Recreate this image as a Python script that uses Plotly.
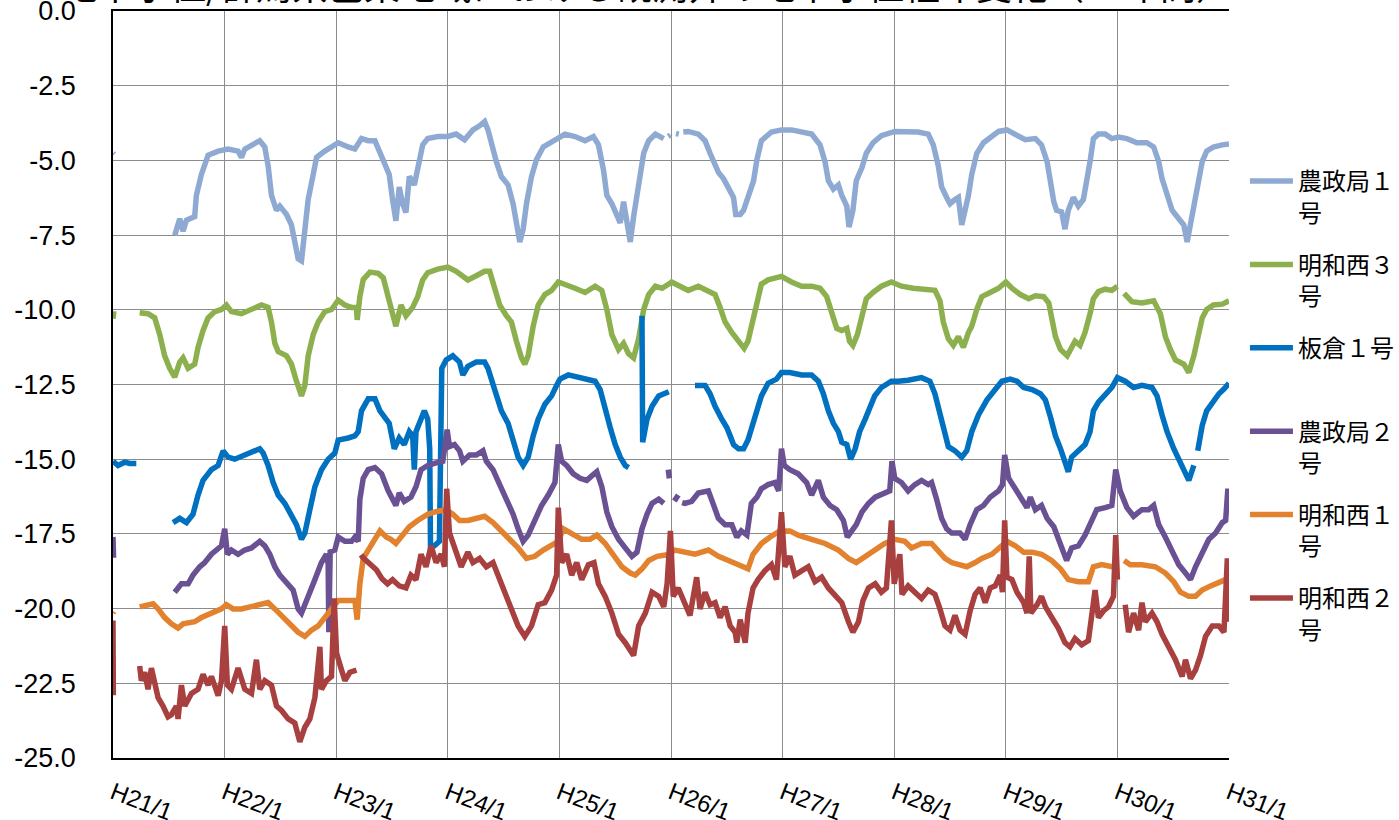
import plotly.graph_objects as go

# ---------------- data (decimal year, groundwater level m) ; None = gap ----------------
tick_years = [2009, 2010, 2011, 2012, 2013, 2014, 2015, 2016, 2017, 2018, 2019]
tick_labels = ["H21/1", "H22/1", "H23/1", "H24/1", "H25/1", "H26/1",
               "H27/1", "H28/1", "H29/1", "H30/1", "H31/1"]
y_ticks = [0.0, -2.5, -5.0, -7.5, -10.0, -12.5, -15.0, -17.5, -20.0, -22.5, -25.0]

series_names = ["農政局１号", "明和西３号", "板倉１号", "農政局２号", "明和西１号", "明和西２号"]

nouseikyoku1 = [
    (2009.0, -4.76), (2009.01, -4.80), None,
    (2009.553, -7.51), (2009.598, -6.95), (2009.628, -7.37), (2009.658, -7.00), (2009.732, -6.88),
    (2009.747, -6.17), (2009.792, -5.47), (2009.852, -4.83), (2009.942, -4.69), (2010.031, -4.62),
    (2010.121, -4.69), (2010.151, -4.90), (2010.181, -4.62), (2010.315, -4.34), (2010.360, -4.55),
    (2010.390, -5.18), (2010.420, -6.17), (2010.465, -6.67), (2010.495, -6.53), (2010.555, -6.81),
    (2010.599, -7.16), (2010.629, -7.73), (2010.659, -8.29), (2010.689, -8.36), (2010.719, -7.44),
    (2010.749, -6.31), (2010.794, -5.47), (2010.824, -4.90), (2010.898, -4.69), (2010.958, -4.55),
    (2011.018, -4.41), (2011.108, -4.55), (2011.167, -4.62), (2011.227, -4.27), (2011.287, -4.34),
    (2011.347, -4.34), (2011.407, -4.90), (2011.475, -5.47), (2011.505, -6.31), (2011.535, -7.02),
    (2011.565, -5.89), (2011.595, -6.45), (2011.625, -6.74), (2011.655, -5.54), (2011.700, -5.82),
    (2011.730, -5.18), (2011.775, -4.48), (2011.820, -4.27), (2011.910, -4.20), (2012.000, -4.20),
    (2012.075, -4.12), (2012.150, -4.31), (2012.225, -3.98), (2012.285, -3.84), (2012.330, -3.70),
    (2012.360, -3.98), (2012.390, -4.48), (2012.435, -5.04), (2012.480, -5.54), (2012.540, -5.82),
    (2012.585, -6.45), (2012.615, -7.02), (2012.645, -7.73), (2012.675, -7.30), (2012.705, -6.45),
    (2012.750, -5.54), (2012.795, -4.97), (2012.855, -4.55), (2012.915, -4.41), (2012.990, -4.27),
    (2013.050, -4.12), (2013.140, -4.20), (2013.230, -4.34), (2013.305, -4.20), (2013.350, -4.48),
    (2013.395, -5.32), (2013.425, -6.17), (2013.470, -6.45), (2013.515, -6.88), (2013.545, -7.09),
    (2013.575, -6.38), (2013.605, -7.16), (2013.635, -7.73), (2013.665, -6.88), (2013.710, -5.89),
    (2013.755, -4.76), (2013.800, -4.34), (2013.860, -4.12), (2013.935, -4.27), None,
    (2013.975, -4.20), (2013.995, -4.15), None, (2014.045, -4.10), (2014.070, -4.12), None,
    (2014.110, -4.05), (2014.155, -4.03), (2014.245, -4.12), (2014.305, -4.34), (2014.350, -4.76),
    (2014.395, -5.18), (2014.425, -5.40), (2014.470, -5.61), (2014.515, -5.96), (2014.560, -6.24),
    (2014.580, -6.81), (2014.620, -6.81), (2014.650, -6.67), (2014.690, -6.24), (2014.740, -5.68),
    (2014.770, -4.97), (2014.810, -4.34), (2014.900, -4.05), (2014.990, -3.98), (2015.080, -3.98),
    (2015.170, -4.03), (2015.260, -4.12), (2015.335, -4.48), (2015.380, -5.04), (2015.410, -5.68),
    (2015.455, -5.96), (2015.500, -5.82), (2015.530, -6.17), (2015.575, -6.53), (2015.595, -7.23),
    (2015.630, -6.67), (2015.660, -5.68), (2015.710, -5.25), (2015.750, -4.76), (2015.810, -4.41),
    (2015.885, -4.17), (2016.005, -4.03), (2016.095, -4.05), (2016.215, -4.05), (2016.305, -4.12),
    (2016.350, -4.48), (2016.395, -5.18), (2016.425, -5.89), (2016.470, -6.24), (2016.500, -6.45),
    (2016.545, -6.31), (2016.575, -6.24), (2016.605, -7.16), (2016.635, -6.67), (2016.665, -6.17),
    (2016.695, -5.47), (2016.740, -4.76), (2016.800, -4.41), (2016.875, -4.20), (2016.935, -4.03),
    (2017.010, -3.98), (2017.085, -4.12), (2017.175, -4.31), (2017.265, -4.27), (2017.320, -4.48),
    (2017.370, -5.04), (2017.400, -5.75), (2017.430, -6.38), (2017.455, -6.67), (2017.500, -6.72),
    (2017.530, -7.30), (2017.560, -6.67), (2017.605, -6.24), (2017.650, -6.53), (2017.695, -6.31),
    (2017.725, -5.75), (2017.755, -5.04), (2017.785, -4.27), (2017.830, -4.12), (2017.890, -4.12),
    (2017.950, -4.27), (2018.010, -4.22), (2018.085, -4.27), (2018.175, -4.41), (2018.265, -4.41),
    (2018.325, -4.55), (2018.370, -5.04), (2018.400, -5.61), (2018.445, -6.10), (2018.490, -6.67),
    (2018.550, -6.95), (2018.595, -7.16), (2018.625, -7.73), (2018.655, -7.16), (2018.685, -6.45),
    (2018.730, -5.61), (2018.760, -5.04), (2018.800, -4.69), (2018.860, -4.55), (2018.940, -4.48),
    (2019.000, -4.45),
]

meiwanishi3 = [
    (2009.0, -10.30), (2009.008, -10.05), None,
    (2009.239, -10.10), (2009.314, -10.13), (2009.374, -10.27), (2009.419, -10.83), (2009.463, -11.54),
    (2009.508, -11.96), (2009.553, -12.25), (2009.598, -11.75), (2009.628, -11.61), (2009.673, -11.96),
    (2009.732, -11.82), (2009.762, -11.26), (2009.807, -10.69), (2009.852, -10.27), (2009.912, -10.06),
    (2009.972, -9.99), (2010.016, -9.84), (2010.061, -10.06), (2010.151, -10.13), (2010.241, -9.99),
    (2010.330, -9.84), (2010.390, -9.92), (2010.420, -10.41), (2010.450, -11.12), (2010.480, -11.40),
    (2010.555, -11.54), (2010.599, -11.82), (2010.644, -12.39), (2010.689, -12.88), (2010.719, -12.53),
    (2010.749, -11.54), (2010.794, -10.83), (2010.839, -10.41), (2010.898, -10.06), (2010.958, -9.99),
    (2011.018, -9.68), (2011.078, -9.84), (2011.137, -9.92), (2011.182, -9.92), (2011.188, -10.34),
    (2011.212, -9.56), (2011.242, -8.99), (2011.302, -8.74), (2011.377, -8.78), (2011.422, -8.93),
    (2011.475, -9.70), (2011.535, -10.55), (2011.580, -9.84), (2011.625, -10.20), (2011.685, -9.92),
    (2011.730, -9.56), (2011.775, -9.00), (2011.820, -8.76), (2011.910, -8.64), (2012.000, -8.57),
    (2012.075, -8.71), (2012.180, -9.00), (2012.255, -8.86), (2012.330, -8.71), (2012.375, -8.71),
    (2012.420, -9.28), (2012.465, -9.84), (2012.525, -10.20), (2012.570, -10.41), (2012.615, -11.05),
    (2012.660, -11.61), (2012.690, -11.82), (2012.720, -11.54), (2012.765, -10.55), (2012.810, -9.84),
    (2012.870, -9.49), (2012.930, -9.35), (2012.990, -9.07), (2013.050, -9.14), (2013.140, -9.28),
    (2013.230, -9.42), (2013.320, -9.21), (2013.380, -9.35), (2013.425, -9.99), (2013.470, -10.83),
    (2013.530, -11.33), (2013.575, -11.12), (2013.620, -11.47), (2013.665, -11.61), (2013.710, -10.97),
    (2013.755, -9.99), (2013.800, -9.49), (2013.860, -9.21), (2013.920, -9.28), (2013.980, -9.14),
    (2014.005, -9.07), (2014.080, -9.21), (2014.155, -9.35), (2014.245, -9.21), (2014.335, -9.35),
    (2014.395, -9.49), (2014.440, -9.92), (2014.485, -10.41), (2014.545, -10.76), (2014.600, -11.05),
    (2014.655, -11.29), (2014.690, -11.05), (2014.730, -10.41), (2014.770, -9.63), (2014.810, -9.14),
    (2014.870, -9.00), (2014.930, -8.93), (2014.990, -8.88), (2015.080, -9.07), (2015.170, -9.21),
    (2015.260, -9.21), (2015.335, -9.28), (2015.395, -9.56), (2015.440, -10.13), (2015.485, -10.62),
    (2015.530, -10.69), (2015.575, -10.62), (2015.600, -11.05), (2015.630, -11.19), (2015.670, -10.83),
    (2015.710, -10.20), (2015.750, -9.63), (2015.810, -9.42), (2015.885, -9.21), (2015.975, -9.07),
    (2016.065, -9.21), (2016.170, -9.28), (2016.275, -9.31), (2016.365, -9.35), (2016.410, -9.70),
    (2016.440, -10.41), (2016.485, -10.97), (2016.530, -11.19), (2016.575, -10.90), (2016.620, -11.26),
    (2016.665, -10.76), (2016.695, -10.55), (2016.740, -9.99), (2016.785, -9.56), (2016.860, -9.42),
    (2016.935, -9.28), (2017.000, -9.07), (2017.055, -9.28), (2017.130, -9.49), (2017.205, -9.63),
    (2017.265, -9.53), (2017.340, -9.56), (2017.385, -9.77), (2017.415, -10.27), (2017.445, -10.90),
    (2017.490, -11.33), (2017.550, -11.54), (2017.590, -11.26), (2017.620, -11.05), (2017.665, -11.19),
    (2017.710, -10.76), (2017.755, -10.13), (2017.785, -9.63), (2017.830, -9.39), (2017.890, -9.31),
    (2017.950, -9.35), (2018.000, -9.21), None,
    (2018.060, -9.45), (2018.130, -9.73), (2018.220, -9.77), (2018.325, -9.70), (2018.385, -10.13),
    (2018.430, -10.90), (2018.475, -11.33), (2018.520, -11.68), (2018.595, -11.82), (2018.640, -12.10),
    (2018.685, -11.54), (2018.730, -10.76), (2018.760, -10.27), (2018.800, -9.99), (2018.860, -9.84),
    (2018.940, -9.81), (2019.000, -9.70),
]

itakura1 = [
    (2009.0, -15.07), (2009.045, -15.21), (2009.105, -15.10), (2009.149, -15.14), (2009.209, -15.14), None,
    (2009.538, -17.12), (2009.598, -16.98), (2009.658, -17.12), (2009.717, -16.84), (2009.762, -16.20),
    (2009.807, -15.71), (2009.882, -15.35), (2009.942, -15.21), (2009.987, -14.72), (2010.031, -14.93),
    (2010.091, -15.00), (2010.181, -14.86), (2010.241, -14.79), (2010.315, -14.65), (2010.345, -14.79),
    (2010.390, -15.21), (2010.435, -15.78), (2010.480, -16.20), (2010.540, -16.48), (2010.599, -16.84),
    (2010.644, -17.19), (2010.689, -17.68), (2010.719, -17.47), (2010.764, -16.69), (2010.809, -15.92),
    (2010.868, -15.35), (2010.928, -15.00), (2010.988, -14.79), (2011.018, -14.36), (2011.108, -14.29),
    (2011.167, -14.22), (2011.197, -14.08), (2011.227, -13.38), (2011.287, -12.98), (2011.347, -12.98),
    (2011.392, -13.38), (2011.451, -13.66), (2011.475, -13.80), (2011.520, -14.65), (2011.565, -14.29),
    (2011.610, -14.51), (2011.655, -14.08), (2011.685, -14.22), (2011.700, -15.35), (2011.715, -14.08),
    (2011.745, -13.80), (2011.790, -13.38), (2011.820, -13.66), (2011.838, -14.65), (2011.845, -17.90),
    (2011.880, -17.90), (2011.925, -17.75), (2011.946, -11.96), (2011.985, -11.68), (2012.045, -11.54),
    (2012.105, -11.75), (2012.135, -12.18), (2012.180, -11.89), (2012.255, -11.75), (2012.330, -11.75),
    (2012.360, -11.96), (2012.420, -12.67), (2012.480, -13.38), (2012.540, -13.80), (2012.585, -14.36),
    (2012.630, -14.93), (2012.675, -15.21), (2012.720, -14.93), (2012.765, -14.22), (2012.810, -13.66),
    (2012.870, -13.16), (2012.930, -12.88), (2012.975, -12.53), (2013.005, -12.32), (2013.080, -12.18),
    (2013.155, -12.25), (2013.245, -12.32), (2013.320, -12.39), (2013.365, -12.67), (2013.410, -13.23),
    (2013.455, -13.94), (2013.500, -14.51), (2013.545, -14.93), (2013.590, -15.21), (2013.620, -15.28), None,
    (2013.740, -10.20), (2013.746, -14.43), (2013.785, -13.66), (2013.830, -13.23), (2013.890, -12.88),
    (2013.980, -12.74), None,
    (2014.215, -12.53), (2014.305, -12.53), (2014.350, -12.81), (2014.395, -13.23), (2014.455, -13.66),
    (2014.500, -13.94), (2014.530, -14.22), (2014.560, -14.51), (2014.605, -14.65), (2014.650, -14.65),
    (2014.690, -14.36), (2014.730, -13.87), (2014.770, -13.38), (2014.810, -12.88), (2014.870, -12.46),
    (2014.945, -12.32), (2014.990, -12.10), (2015.065, -12.10), (2015.170, -12.18), (2015.260, -12.18),
    (2015.320, -12.39), (2015.365, -12.81), (2015.410, -13.38), (2015.455, -13.80), (2015.500, -14.08),
    (2015.530, -14.43), (2015.575, -14.51), (2015.610, -15.00), (2015.650, -14.65), (2015.690, -14.08),
    (2015.740, -13.66), (2015.780, -13.23), (2015.825, -12.88), (2015.885, -12.60), (2015.975, -12.39),
    (2016.035, -12.39), (2016.125, -12.36), (2016.245, -12.27), (2016.320, -12.39), (2016.365, -12.81),
    (2016.410, -13.52), (2016.455, -14.22), (2016.485, -14.58), (2016.545, -14.72), (2016.605, -14.93),
    (2016.650, -14.72), (2016.695, -14.08), (2016.755, -13.52), (2016.830, -13.02), (2016.905, -12.67),
    (2016.965, -12.39), (2017.040, -12.32), (2017.100, -12.39), (2017.160, -12.60), (2017.235, -12.67),
    (2017.310, -12.81), (2017.355, -13.02), (2017.400, -13.59), (2017.445, -14.22), (2017.490, -14.65),
    (2017.530, -15.07), (2017.560, -15.42), (2017.590, -14.93), (2017.650, -14.72), (2017.710, -14.51),
    (2017.755, -14.08), (2017.785, -13.38), (2017.830, -13.09), (2017.890, -12.81), (2017.950, -12.60),
    (2018.000, -12.27), (2018.070, -12.39), (2018.145, -12.60), (2018.220, -12.53), (2018.310, -12.60),
    (2018.355, -12.88), (2018.400, -13.52), (2018.445, -14.08), (2018.505, -14.65), (2018.550, -15.00),
    (2018.595, -15.35), (2018.640, -15.71), (2018.685, -15.21), None,
    (2018.720, -14.72), (2018.760, -13.87), (2018.800, -13.38), (2018.850, -13.09), (2018.910, -12.81),
    (2018.950, -12.67), (2019.000, -12.46),
]

nouseikyoku2 = [
    (2009.0, -17.60), (2009.005, -18.30), None,
    (2009.553, -19.45), (2009.613, -19.17), (2009.673, -19.17), (2009.717, -18.88), (2009.777, -18.60),
    (2009.822, -18.46), (2009.882, -18.18), (2009.927, -18.04), (2009.972, -17.90), (2010.001, -17.33),
    (2010.025, -18.18), (2010.061, -18.04), (2010.121, -18.18), (2010.181, -18.04), (2010.241, -17.97),
    (2010.315, -17.75), (2010.360, -17.90), (2010.405, -18.18), (2010.450, -18.60), (2010.495, -18.88),
    (2010.555, -19.17), (2010.614, -19.38), (2010.659, -20.01), (2010.689, -20.15), (2010.719, -19.87),
    (2010.764, -19.38), (2010.809, -19.03), (2010.868, -18.46), (2010.913, -18.18), (2010.928, -18.50),
    (2010.934, -20.79), (2010.946, -18.10), (2010.988, -18.04), (2011.018, -17.61), (2011.078, -17.75),
    (2011.137, -17.75), (2011.167, -17.61), (2011.197, -17.75), (2011.212, -16.34), (2011.242, -15.64),
    (2011.287, -15.35), (2011.347, -15.28), (2011.407, -15.49), (2011.466, -16.06), (2011.490, -16.27),
    (2011.535, -16.55), (2011.565, -16.13), (2011.610, -16.41), (2011.670, -16.27), (2011.715, -15.92),
    (2011.760, -15.35), (2011.820, -15.21), (2011.880, -15.14), (2011.955, -15.07), (2011.994, -14.01),
    (2012.015, -14.58), (2012.060, -14.51), (2012.105, -14.72), (2012.135, -15.07), (2012.195, -14.86),
    (2012.255, -14.86), (2012.315, -14.72), (2012.345, -15.07), (2012.405, -15.35), (2012.465, -15.85),
    (2012.525, -16.34), (2012.585, -16.84), (2012.630, -17.33), (2012.675, -17.75), (2012.720, -17.54),
    (2012.780, -17.05), (2012.840, -16.55), (2012.900, -16.20), (2012.960, -15.78), (2012.990, -14.51),
    (2013.020, -15.07), (2013.065, -15.21), (2013.125, -15.49), (2013.185, -15.64), (2013.245, -15.71),
    (2013.290, -15.56), (2013.335, -15.42), (2013.380, -15.92), (2013.425, -16.77), (2013.470, -17.26),
    (2013.530, -17.68), (2013.590, -17.97), (2013.650, -18.25), (2013.695, -18.11), (2013.740, -17.33),
    (2013.785, -16.84), (2013.830, -16.48), (2013.890, -16.34), (2013.935, -16.48), None,
    (2013.975, -15.35), (2013.985, -15.64), None, (2014.030, -16.40), (2014.065, -16.20), None,
    (2014.100, -16.45), (2014.125, -16.48), (2014.185, -16.41), (2014.245, -16.13), (2014.335, -16.06),
    (2014.380, -16.55), (2014.425, -16.98), (2014.485, -17.19), (2014.545, -17.19), (2014.590, -17.61),
    (2014.630, -17.40), (2014.680, -17.54), (2014.720, -16.48), (2014.770, -16.27), (2014.810, -15.99),
    (2014.870, -15.85), (2014.930, -15.78), (2014.965, -16.06), (2014.990, -14.65), (2015.015, -15.21),
    (2015.065, -15.35), (2015.140, -15.49), (2015.215, -15.78), (2015.260, -16.20), (2015.320, -15.71),
    (2015.365, -16.27), (2015.425, -16.55), (2015.485, -16.69), (2015.545, -17.05), (2015.580, -17.61),
    (2015.620, -17.40), (2015.660, -17.19), (2015.710, -16.77), (2015.770, -16.48), (2015.830, -16.27),
    (2015.915, -16.13), (2015.960, -16.06), (2015.980, -15.07), (2016.005, -15.64), (2016.065, -15.78),
    (2016.125, -16.06), (2016.185, -15.85), (2016.245, -15.71), (2016.305, -15.85), (2016.335, -15.78),
    (2016.380, -16.34), (2016.425, -16.98), (2016.470, -17.33), (2016.515, -17.47), (2016.590, -17.47),
    (2016.635, -17.68), (2016.680, -17.19), (2016.740, -16.69), (2016.800, -16.55), (2016.860, -16.27),
    (2016.935, -16.06), (2016.970, -15.85), (2016.990, -14.86), (2017.025, -15.64), (2017.085, -15.99),
    (2017.145, -16.34), (2017.190, -16.62), (2017.220, -16.27), (2017.265, -16.69), (2017.320, -16.55),
    (2017.370, -16.98), (2017.430, -17.26), (2017.490, -17.90), (2017.545, -18.39), (2017.590, -17.97),
    (2017.650, -17.90), (2017.710, -17.54), (2017.770, -17.05), (2017.815, -16.69), (2017.890, -16.62),
    (2017.950, -16.55), (2017.985, -15.35), (2018.025, -16.06), (2018.085, -16.62), (2018.145, -16.91),
    (2018.220, -16.69), (2018.280, -16.69), (2018.325, -16.55), (2018.370, -17.19), (2018.430, -17.61),
    (2018.490, -18.11), (2018.550, -18.53), (2018.610, -18.81), (2018.655, -19.03), (2018.700, -18.60),
    (2018.760, -18.11), (2018.820, -17.68), (2018.880, -17.47), (2018.940, -17.12), (2018.970, -17.05),
    (2018.990, -15.99), (2019.000, -16.20),
]

meiwanishi1 = [
    (2009.0, -20.15), (2009.008, -20.10), None,
    (2009.239, -19.94), (2009.359, -19.84), (2009.404, -20.01), (2009.463, -20.30), (2009.523, -20.51),
    (2009.583, -20.65), (2009.628, -20.51), (2009.732, -20.44), (2009.792, -20.30), (2009.882, -20.15),
    (2009.972, -20.01), (2010.016, -19.87), (2010.076, -20.01), (2010.151, -20.01), (2010.241, -19.94),
    (2010.330, -19.87), (2010.390, -19.80), (2010.450, -20.01), (2010.510, -20.23), (2010.599, -20.51),
    (2010.659, -20.79), (2010.719, -20.93), (2010.779, -20.72), (2010.839, -20.58), (2010.913, -20.23),
    (2010.973, -19.94), (2011.018, -19.73), (2011.078, -19.73), (2011.167, -19.73), (2011.188, -20.37),
    (2011.212, -19.17), (2011.242, -18.32), (2011.287, -18.04), (2011.332, -17.75), (2011.392, -17.40),
    (2011.451, -17.61), (2011.490, -17.68), (2011.535, -17.82), (2011.595, -17.54), (2011.655, -17.26),
    (2011.730, -17.05), (2011.820, -16.84), (2011.910, -16.74), (2011.985, -16.69), (2012.045, -16.84),
    (2012.105, -17.05), (2012.180, -17.05), (2012.255, -16.98), (2012.330, -16.91), (2012.405, -17.12),
    (2012.480, -17.40), (2012.555, -17.68), (2012.630, -17.97), (2012.705, -18.32), (2012.780, -18.25),
    (2012.855, -18.04), (2012.930, -17.90), (2012.990, -17.75), (2013.035, -17.33), (2013.110, -17.47),
    (2013.200, -17.68), (2013.275, -17.68), (2013.335, -17.54), (2013.410, -17.82), (2013.485, -18.25),
    (2013.560, -18.60), (2013.635, -18.81), (2013.680, -18.88), (2013.740, -18.67), (2013.800, -18.39),
    (2013.875, -18.25), (2013.965, -18.20), (2014.035, -18.04), (2014.125, -18.11), (2014.215, -18.18),
    (2014.335, -18.04), (2014.425, -18.25), (2014.515, -18.39), (2014.605, -18.53), (2014.690, -18.67),
    (2014.735, -18.18), (2014.810, -17.82), (2014.885, -17.61), (2014.975, -17.40), (2015.065, -17.40),
    (2015.140, -17.54), (2015.260, -17.68), (2015.380, -17.82), (2015.500, -18.04), (2015.590, -18.32),
    (2015.660, -18.46), (2015.740, -18.25), (2015.830, -18.04), (2015.915, -17.82), (2016.005, -17.68),
    (2016.095, -17.75), (2016.155, -17.97), (2016.245, -17.82), (2016.335, -17.82), (2016.395, -18.04),
    (2016.455, -18.32), (2016.515, -18.46), (2016.605, -18.53), (2016.650, -18.60), (2016.725, -18.46),
    (2016.785, -18.32), (2016.875, -18.18), (2016.950, -17.97), (2017.010, -17.75), (2017.085, -17.90),
    (2017.160, -18.11), (2017.235, -18.11), (2017.320, -18.18), (2017.410, -18.39), (2017.490, -18.67),
    (2017.560, -19.03), (2017.650, -19.10), (2017.740, -19.10), (2017.785, -18.60), (2017.860, -18.53),
    (2017.950, -18.60), (2018.000, -18.53), None,
    (2018.060, -18.39), (2018.115, -18.53), (2018.220, -18.53), (2018.340, -18.60), (2018.430, -18.81),
    (2018.505, -19.10), (2018.565, -19.45), (2018.640, -19.59), (2018.700, -19.59), (2018.760, -19.38),
    (2018.835, -19.24), (2018.910, -19.10), (2018.970, -19.03), (2019.000, -19.03),
]

meiwanishi2 = [
    (2009.0, -20.40), (2009.003, -22.90), None,
    (2009.239, -21.92), (2009.254, -22.41), (2009.284, -22.13), (2009.314, -22.70), (2009.344, -21.99),
    (2009.374, -22.41), (2009.404, -22.98), (2009.448, -23.26), (2009.493, -23.62), (2009.523, -23.55),
    (2009.568, -23.26), (2009.583, -23.69), (2009.613, -22.56), (2009.643, -23.26), (2009.703, -22.84),
    (2009.762, -22.70), (2009.807, -22.20), (2009.852, -22.56), (2009.882, -22.27), (2009.942, -22.91),
    (2009.972, -22.41), (2010.001, -20.58), (2010.025, -22.56), (2010.061, -22.70), (2010.121, -21.99),
    (2010.181, -22.70), (2010.241, -22.84), (2010.285, -21.71), (2010.315, -22.70), (2010.360, -22.41),
    (2010.420, -22.56), (2010.465, -23.26), (2010.510, -23.41), (2010.570, -23.69), (2010.629, -23.83),
    (2010.674, -24.46), (2010.719, -23.97), (2010.764, -23.69), (2010.809, -22.98), (2010.854, -21.28),
    (2010.868, -22.70), (2010.913, -22.41), (2010.958, -22.27), (2010.982, -19.66), (2011.003, -21.49),
    (2011.048, -22.06), (2011.078, -22.41), (2011.123, -22.13), (2011.182, -22.06), None,
    (2011.222, -18.20), (2011.242, -18.30), (2011.300, -18.50), (2011.360, -18.70), (2011.410, -19.00),
    (2011.460, -19.17), (2011.505, -19.03), (2011.565, -19.24), (2011.625, -19.31), (2011.670, -18.88),
    (2011.715, -19.03), (2011.760, -18.18), (2011.805, -18.60), (2011.850, -17.90), (2011.895, -18.46),
    (2011.940, -18.18), (2011.970, -18.60), (2011.990, -15.99), (2012.015, -17.47), (2012.060, -17.97),
    (2012.120, -18.60), (2012.180, -18.11), (2012.225, -18.46), (2012.285, -18.32), (2012.345, -18.60),
    (2012.405, -18.46), (2012.450, -18.88), (2012.510, -19.45), (2012.570, -19.94), (2012.630, -20.58),
    (2012.690, -20.93), (2012.750, -20.58), (2012.810, -19.87), (2012.870, -19.80), (2012.930, -19.38),
    (2012.975, -18.88), (2012.990, -16.62), (2013.020, -18.46), (2013.065, -18.18), (2013.110, -18.88),
    (2013.155, -18.46), (2013.200, -19.03), (2013.260, -18.53), (2013.310, -18.46), (2013.350, -19.17),
    (2013.410, -19.59), (2013.470, -20.15), (2013.530, -20.86), (2013.590, -21.14), (2013.665, -21.57),
    (2013.710, -20.58), (2013.770, -20.15), (2013.830, -19.45), (2013.890, -19.59), (2013.935, -19.94),
    (2013.965, -19.17), (2013.995, -17.40), (2014.020, -19.59), (2014.065, -19.31), (2014.110, -19.66),
    (2014.170, -20.23), (2014.230, -18.95), (2014.260, -20.01), (2014.305, -19.45), (2014.350, -19.87),
    (2014.395, -19.80), (2014.440, -20.30), (2014.485, -19.94), (2014.530, -20.58), (2014.575, -20.79),
    (2014.590, -21.14), (2014.620, -20.37), (2014.665, -21.14), (2014.690, -20.15), (2014.735, -19.31),
    (2014.780, -19.03), (2014.840, -18.74), (2014.900, -18.53), (2014.945, -19.03), (2014.990, -16.77),
    (2015.020, -18.60), (2015.065, -18.25), (2015.110, -18.88), (2015.170, -18.74), (2015.230, -18.60),
    (2015.290, -19.10), (2015.350, -18.95), (2015.410, -19.31), (2015.470, -19.59), (2015.530, -19.80),
    (2015.590, -20.44), (2015.630, -20.79), (2015.680, -20.44), (2015.720, -19.73), (2015.770, -19.31),
    (2015.830, -19.17), (2015.885, -19.45), (2015.930, -19.31), (2015.975, -17.05), (2016.000, -19.17),
    (2016.050, -18.18), (2016.070, -19.52), (2016.125, -19.24), (2016.185, -19.45), (2016.245, -19.66),
    (2016.305, -19.38), (2016.365, -19.52), (2016.410, -20.01), (2016.455, -20.58), (2016.500, -20.72),
    (2016.545, -20.23), (2016.590, -20.72), (2016.635, -20.86), (2016.680, -20.08), (2016.725, -19.52),
    (2016.770, -19.31), (2016.815, -19.80), (2016.860, -19.31), (2016.905, -19.24), (2016.950, -18.88),
    (2016.970, -19.45), (2016.990, -17.05), (2017.010, -18.95), (2017.055, -19.03), (2017.100, -19.45),
    (2017.160, -19.80), (2017.190, -20.15), (2017.210, -18.25), (2017.225, -20.15), (2017.280, -19.87),
    (2017.320, -19.59), (2017.355, -19.94), (2017.415, -20.30), (2017.470, -20.65), (2017.530, -21.14),
    (2017.575, -21.28), (2017.620, -21.00), (2017.680, -21.21), (2017.740, -21.07), (2017.770, -20.30),
    (2017.800, -19.38), (2017.830, -20.30), (2017.875, -20.08), (2017.920, -19.94), (2017.965, -19.59),
    (2017.985, -17.54), (2018.000, -19.03), None,
    (2018.070, -19.87), (2018.100, -20.79), (2018.145, -20.15), (2018.190, -20.72), (2018.220, -19.80),
    (2018.250, -20.44), (2018.310, -20.15), (2018.355, -20.44), (2018.400, -20.86), (2018.460, -21.28),
    (2018.520, -21.71), (2018.580, -22.27), (2018.610, -21.71), (2018.655, -22.34), (2018.700, -22.06),
    (2018.745, -21.57), (2018.790, -20.93), (2018.850, -20.58), (2018.910, -20.58), (2018.955, -20.79),
    (2018.970, -19.87), (2018.985, -18.32), (2019.000, -20.44),
]

series_data = [nouseikyoku1, meiwanishi3, itakura1, nouseikyoku2, meiwanishi1, meiwanishi2]
series_colors = ["#8FAAD2", "#8DB04E", "#0070C0", "#6A5193", "#E2822F", "#A8403F"]

title_text = "地下水位/群馬県邑楽地域における観測井の地下水位経年変化（10年間）"

# ---------------- figure ----------------
def split_xy(points):
    xs, ys = [], []
    for p in points:
        if p is None:
            xs.append(None); ys.append(None)
        else:
            xs.append(p[0]); ys.append(p[1])
    return xs, ys

def legend_label(name):
    # wrap like the original legend (first 4 glyphs, then the rest)
    if len(name) > 4:
        return name[:4] + "<br>" + name[4:]
    return name + "<br> "

fig = go.Figure()
for i, (name, pts, col) in enumerate(zip(series_names, series_data, series_colors)):
    xs, ys = split_xy(pts)
    fig.add_trace(go.Scatter(
        x=xs, y=ys, mode="lines", name=legend_label(name),
        line=dict(color=col, width=5.5), connectgaps=False,
        legendgroup="g%d" % i,
    ))

cjk = "Noto Sans CJK JP"
num_font = "Liberation Sans, Arial, sans-serif"

fig.update_layout(
    width=1399, height=820,
    paper_bgcolor="white", plot_bgcolor="white",
    margin=dict(l=113, r=170, t=11, b=62, autoexpand=False),
    showlegend=True,
    legend=dict(
        x=1.0143, xanchor="left", y=0.802, yanchor="top",
        font=dict(family=cjk, size=24, color="black"),
        tracegroupgap=18, valign="top", itemwidth=43,
        bgcolor="rgba(0,0,0,0)",
    ),
    xaxis=dict(
        range=[2009, 2019], tickmode="array", tickvals=tick_years, ticktext=tick_labels,
        tickangle=21, tickfont=dict(family=num_font, size=24, color="black"),
        showgrid=True, gridcolor="#8c8c8c", gridwidth=1,
        showline=True, linecolor="black", linewidth=1.5, mirror=True,
        zeroline=False, ticks="", automargin=False, ticklabelstandoff=10,
    ),
    yaxis=dict(
        range=[-25, 0], tickmode="array", tickvals=y_ticks,
        ticktext=["%.1f" % v for v in y_ticks],
        tickfont=dict(family=num_font, size=27, color="black"),
        showgrid=True, gridcolor="#8c8c8c", gridwidth=1,
        showline=True, linecolor="black", linewidth=1.5,
        zeroline=False, ticks="", ticklabelstandoff=30, automargin=False,
        ticklabeloverflow="allow",
    ),
    annotations=[dict(
        text=title_text, xref="paper", yref="paper",
        x=-0.0475, xanchor="left", y=0.997, yanchor="bottom", yshift=1,
        showarrow=False, font=dict(family=cjk, size=36, color="black"),
    )],
)

fig.write_html("out.html", config={"displayModeBar": False},
               post_script="document.body.style.margin='0px';")
